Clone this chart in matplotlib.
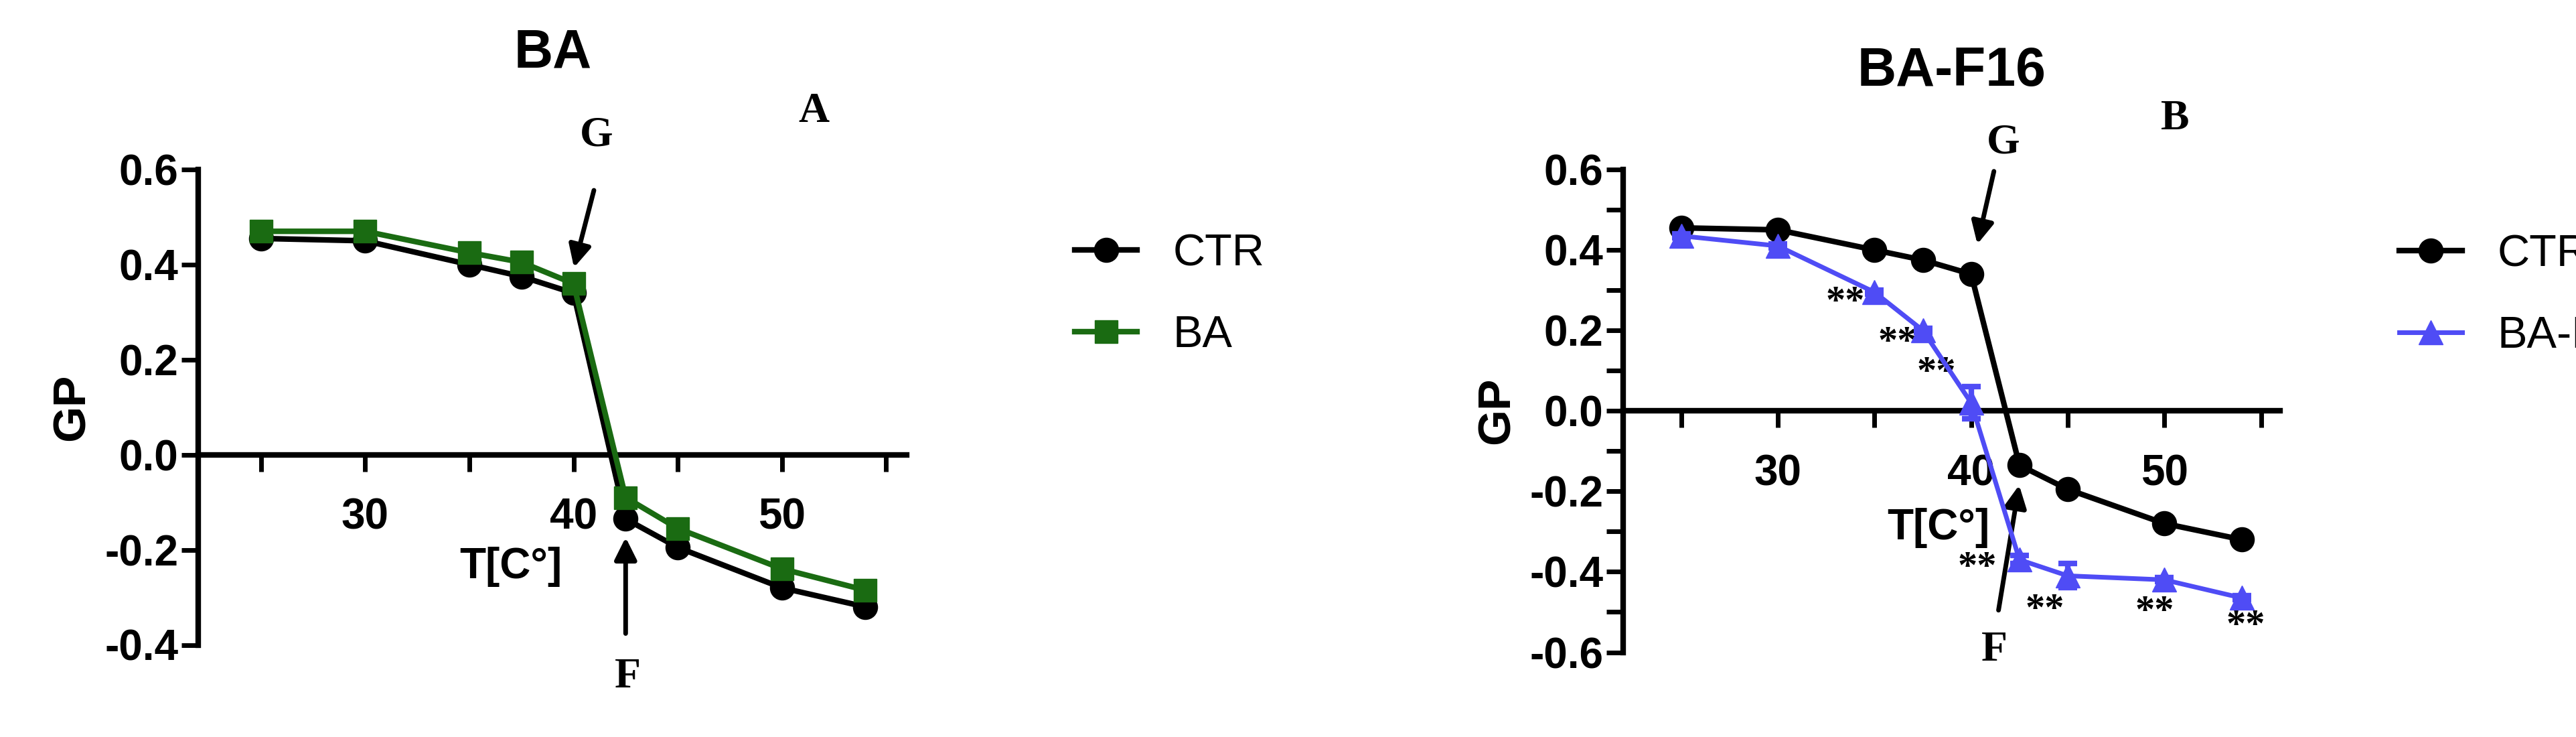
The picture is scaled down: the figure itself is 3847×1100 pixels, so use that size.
import matplotlib.pyplot as plt
from matplotlib.ticker import MultipleLocator

temps = [25, 30, 35, 37.5, 40, 42.5, 45, 50, 54]
gp_ctr = [0.455, 0.45, 0.40, 0.375, 0.34, -0.135, -0.195, -0.28, -0.32]
gp_ba = [0.47, 0.47, 0.425, 0.405, 0.36, -0.09, -0.155, -0.24, -0.285]
gp_f16 = [0.435, 0.41, 0.295, 0.20, 0.02, -0.37, -0.41, -0.42, -0.465]
err_f16 = [0.005, 0.005, 0.005, 0.005, 0.04, 0.01, 0.03, 0.005, 0.005]
star_x = [33.5, 36.2, 38.2, 40.3, 43.8, 49.5, 54.2]
star_y = [0.245, 0.145, 0.07, -0.415, -0.52, -0.525, -0.56]

plt.rcParams['font.family'] = ['Liberation Sans', 'DejaVu Sans']
fig = plt.figure(figsize=(38.48, 11), dpi=100)
axA = fig.add_axes([0.077, 0.125, 0.275, 0.645])
axB = fig.add_axes([0.63, 0.115, 0.255, 0.655])


def style(ax, ymin, ymax, minor):
    ax.set_xlim(22, 56)
    ax.set_ylim(ymin, ymax)
    ax.spines['top'].set_visible(False)
    ax.spines['right'].set_visible(False)
    ax.spines['bottom'].set_position(('data', 0))
    for s in ['left', 'bottom']:
        ax.spines[s].set_linewidth(6)
    ax.set_xticks([30, 40, 50])
    ax.set_xticks([25, 35, 45, 55], minor=True)
    ax.set_yticks([v / 10 for v in range(int(ymin * 10), int(ymax * 10) + 1, 2)])
    if minor:
        ax.yaxis.set_minor_locator(MultipleLocator(0.1))
    ax.tick_params(which='both', width=5, length=18, labelsize=46)
    ax.tick_params(axis='x', which='both', pad=28)
    for lab in ax.get_xticklabels() + ax.get_yticklabels():
        lab.set_fontweight('bold')
    ax.yaxis.set_major_formatter(lambda v, p: f"{v:.1f}")
    ax.set_ylabel('GP', fontsize=50, fontweight='bold', labelpad=12)


# Panel A
style(axA, -0.4, 0.6, False)
axA.plot(temps, gp_ctr, '-o', color='black', lw=6, ms=26, label='CTR', zorder=3)
axA.plot(temps, gp_ba, '-s', color='#1a6b12', lw=6, ms=24, label='BA', zorder=4)
axA.set_title('BA', fontsize=58, fontweight='bold', pad=110)
axA.text(50.8, 0.7, 'A', fontsize=46, fontweight='bold', family='Liberation Serif')
axA.text(40.3, 0.65, 'G', fontsize=46, fontweight='bold', family='Liberation Serif')
axA.annotate('', xy=(40.0, 0.39), xytext=(41.0, 0.56),
             arrowprops=dict(arrowstyle='-|>', lw=5, color='black', mutation_scale=50))
axA.annotate('', xy=(42.5, -0.17), xytext=(42.5, -0.38),
             arrowprops=dict(arrowstyle='-|>', lw=5, color='black', mutation_scale=50))
axA.text(42.6, -0.49, 'F', fontsize=46, fontweight='bold', family='Liberation Serif', ha='center')
axA.text(37.0, -0.26, 'T[C°]', fontsize=46, fontweight='bold', ha='center')
axA.legend(loc='upper left', bbox_to_anchor=(1.18, 0.95), frameon=False, fontsize=48,
           handlelength=1.4, labelspacing=0.9)

# Panel B
style(axB, -0.6, 0.6, True)
axB.plot(temps, gp_ctr, '-o', color='black', lw=6, ms=26, label='CTR', zorder=3)
axB.errorbar(temps, gp_f16, yerr=err_f16, fmt='none', ecolor='#4f4cf5',
             capsize=10, elinewidth=6, capthick=6, zorder=4)
axB.plot(temps, gp_f16, '-^', color='#4f4cf5', lw=5, ms=26, label='BA-F16', zorder=4)
axB.set_title('BA-F16', fontsize=58, fontweight='bold', pad=90)
for x, y in zip(star_x, star_y):
    axB.text(x, y, '**', fontsize=42, fontweight='bold', family='Liberation Serif', ha='center')
axB.text(49.8, 0.7, 'B', fontsize=46, fontweight='bold', family='Liberation Serif')
axB.text(40.8, 0.64, 'G', fontsize=46, fontweight='bold', family='Liberation Serif')
axB.annotate('', xy=(40.3, 0.41), xytext=(41.2, 0.6),
             arrowprops=dict(arrowstyle='-|>', lw=5, color='black', mutation_scale=50))
axB.annotate('', xy=(42.5, -0.18), xytext=(41.4, -0.5),
             arrowprops=dict(arrowstyle='-|>', lw=5, color='black', mutation_scale=50))
axB.text(41.2, -0.62, 'F', fontsize=46, fontweight='bold', family='Liberation Serif', ha='center')
axB.text(38.3, -0.32, 'T[C°]', fontsize=46, fontweight='bold', ha='center')
axB.legend(loc='upper left', bbox_to_anchor=(1.12, 0.95), frameon=False, fontsize=48,
           handlelength=1.4, labelspacing=0.9)

fig.savefig('out.png', dpi=100)
